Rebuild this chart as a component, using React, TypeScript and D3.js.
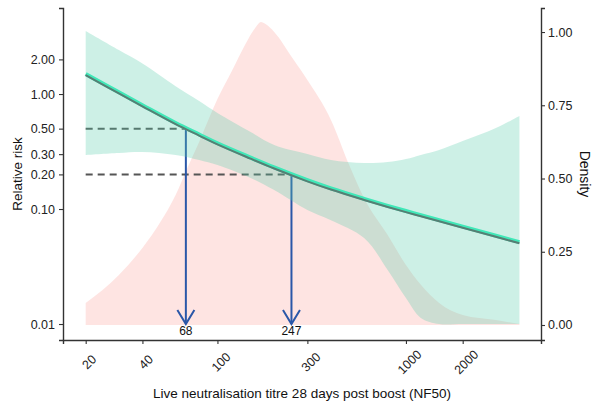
import * as d3 from "d3";
import React from "react";

// titre grid for the risk curve (NF50)
const riskTitre = [20, 30, 40, 60, 80, 100, 150, 200, 300, 400, 600, 800, 1000, 1200, 1500, 2000, 3000, 4000];
const riskEst = [1.49, 1.035, 0.8, 0.56, 0.445, 0.373, 0.28, 0.23, 0.178, 0.151, 0.1226, 0.1065, 0.0961, 0.0885, 0.08, 0.0703, 0.0586, 0.0515];
const riskUpper = [3.53, 2.41, 1.84, 1.17, 0.869, 0.684, 0.467, 0.36, 0.301, 0.267, 0.251, 0.256, 0.272, 0.295, 0.326, 0.39, 0.506, 0.644];
const riskLower = [0.295, 0.307, 0.313, 0.295, 0.267, 0.241, 0.186, 0.146, 0.098, 0.08, 0.056, 0.0295, 0.0168, 0.0113, 0.01, 0.01, 0.01, 0.01];

// titre density
const densityTitre = [20, 30, 40, 50, 60, 70, 80, 100, 120, 140, 160, 170, 180, 200, 250, 300, 400, 500, 600, 800, 1000, 1200, 1500, 2000, 3000, 4000];
const density = [0.075, 0.171, 0.263, 0.353, 0.444, 0.543, 0.625, 0.771, 0.87, 0.956, 1.017, 1.034, 1.027, 1.0, 0.911, 0.836, 0.7, 0.546, 0.433, 0.307, 0.205, 0.137, 0.075, 0.034, 0.017, 0.003];

// thresholds: relative risk -> titre
const thresholdRisk = [0.5, 0.2];
const thresholdTitre = [68, 247];

const xTicks = [20, 40, 100, 300, 1000, 2000];
const yTicks = [0.01, 0.1, 0.2, 0.3, 0.5, 1, 2];
const densityTicks = [0, 0.25, 0.5, 0.75, 1];

const FONT = "'Liberation Sans', Arial, sans-serif";

function App() {
  const svgRef = React.useRef<SVGSVGElement>(null);

  React.useEffect(() => {
    const width = 606;
    const height = 407;
    const left = 63;
    const right = 541;
    const top = 8;
    const bottom = 340;

    const x = d3.scaleLog().domain([15.16, 5206]).range([left, right]);
    const y = d3.scaleLog().domain([Math.pow(10, -2.139), Math.pow(10, 0.748)]).range([bottom, top]);
    const yd = d3.scaleLinear().domain([-0.0512, 1.082]).range([bottom, top]);

    const svg = d3.select(svgRef.current).attr("width", width).attr("height", height);
    svg.selectAll("*").remove();
    svg.append("rect").attr("width", width).attr("height", height).attr("fill", "#fff");

    // density area
    const densArea = d3
      .area<number>()
      .curve(d3.curveMonotoneX)
      .x((_, i) => x(densityTitre[i]))
      .y0(() => yd(0))
      .y1((d) => yd(d));
    svg.append("path").attr("d", densArea(density)).attr("fill", "#F8766D").attr("fill-opacity", 0.2);

    // dashed threshold lines
    thresholdRisk.forEach((r, i) => {
      svg
        .append("line")
        .attr("x1", x(riskTitre[0]))
        .attr("x2", x(thresholdTitre[i]))
        .attr("y1", y(r))
        .attr("y2", y(r))
        .attr("stroke", "#555")
        .attr("stroke-width", 2)
        .attr("stroke-dasharray", "7,5");
    });

    // arrows
    thresholdRisk.forEach((r, i) => {
      const ax = x(thresholdTitre[i]);
      const ay = y(0.01);
      const g = svg.append("g").attr("stroke", "#2a57a8").attr("stroke-width", 2).attr("fill", "none");
      g.append("line").attr("x1", ax).attr("x2", ax).attr("y1", y(r)).attr("y2", ay);
      g.append("path").attr("d", `M${ax - 8.5},${ay - 14}L${ax},${ay}L${ax + 8.5},${ay - 14}`);
    });

    // confidence band
    const band = d3
      .area<number>()
      .curve(d3.curveCatmullRom)
      .x((_, i) => x(riskTitre[i]))
      .y0((_, i) => y(riskLower[i]))
      .y1((d) => y(d));
    svg.append("path").attr("d", band(riskUpper)).attr("fill", "#58CDAC").attr("fill-opacity", 0.3);

    // fitted line
    const line = d3
      .line<number>()
      .curve(d3.curveCatmullRom)
      .x((_, i) => x(riskTitre[i]))
      .y((d) => y(d));
    svg
      .append("path")
      .attr("d", line(riskEst))
      .attr("fill", "none")
      .attr("stroke", "#40e8b8")
      .attr("stroke-width", 4);
    svg
      .append("path")
      .attr("d", line(riskEst))
      .attr("transform", "translate(0,1.1)")
      .attr("fill", "none")
      .attr("stroke", "#557f74")
      .attr("stroke-width", 2);

    // arrow labels
    thresholdTitre.forEach((t) => {
      svg
        .append("text")
        .attr("x", x(t))
        .attr("y", y(0.01) + 11)
        .attr("text-anchor", "middle")
        .attr("font-family", FONT)
        .attr("font-size", 12)
        .attr("fill", "#111")
        .text(String(t));
    });

    const styleAxis = (g: any) => {
      g.select(".domain").attr("stroke", "#333").attr("stroke-width", 1.4);
      g.selectAll(".tick line").attr("stroke", "#333").attr("stroke-width", 1.1);
      g.selectAll(".tick text").attr("font-family", FONT).attr("font-size", 12.5).attr("fill", "#222");
    };

    // left axis
    svg
      .append("g")
      .attr("transform", `translate(${left},0)`)
      .call(d3.axisLeft(y).tickValues(yTicks).tickFormat(d3.format(".2f")).tickSizeOuter(0).tickSize(4).tickPadding(4))
      .call(styleAxis);

    // right axis
    svg
      .append("g")
      .attr("transform", `translate(${right},0)`)
      .call(d3.axisRight(yd).tickValues(densityTicks).tickFormat(d3.format(".2f")).tickSizeOuter(0).tickSize(4).tickPadding(3))
      .call(styleAxis);

    // bottom axis
    const gx = svg
      .append("g")
      .attr("transform", `translate(0,${bottom})`)
      .call(d3.axisBottom(x).tickValues(xTicks).tickFormat(d3.format("d")).tickSizeOuter(0).tickSize(4))
      .call(styleAxis);
    gx.selectAll(".tick text")
      .attr("text-anchor", "middle")
      .attr("y", 0)
      .attr("dy", "0.35em")
      .attr("transform", "translate(3,22) rotate(-45)");

    // titles
    svg
      .append("text")
      .attr("transform", `translate(22,${(top + bottom) / 2}) rotate(-90)`)
      .attr("text-anchor", "middle")
      .attr("font-family", FONT)
      .attr("font-size", 13.5)
      .attr("fill", "#111")
      .text("Relative risk");
    svg
      .append("text")
      .attr("transform", `translate(580,${(top + bottom) / 2}) rotate(90)`)
      .attr("text-anchor", "middle")
      .attr("font-family", FONT)
      .attr("font-size", 14)
      .attr("fill", "#111")
      .text("Density");
    svg
      .append("text")
      .attr("x", (left + right) / 2)
      .attr("y", 398)
      .attr("text-anchor", "middle")
      .attr("font-family", FONT)
      .attr("font-size", 13.5)
      .attr("fill", "#111")
      .text("Live neutralisation titre 28 days post boost (NF50)");
  }, []);

  return <svg ref={svgRef} style={{ position: "absolute", left: 0, top: 0 }} />;
}

export default App;
